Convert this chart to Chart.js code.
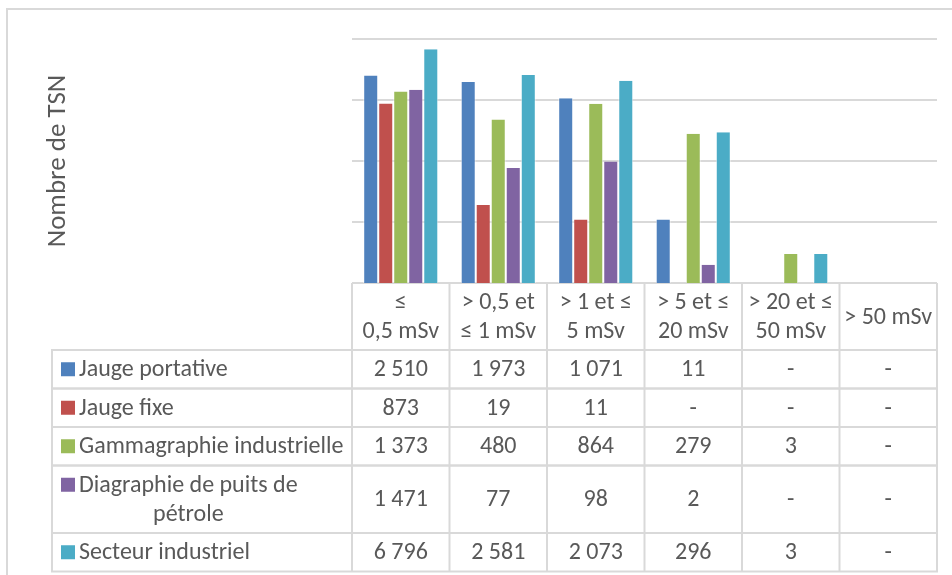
<!DOCTYPE html>
<html lang="fr">
<head>
  <meta charset="UTF-8" />
  <title>Nombre de TSN par tranche de dose</title>
  <script src="https://cdn.jsdelivr.net/npm/chart.js"></script>
  <style>
    * {
      margin: 0;
      padding: 0;
      box-sizing: border-box;
    }
    body {
      background: #fff;
      width: 952px;
      height: 575px;
      overflow: hidden;
    }
    canvas {
      display: block;
    }
  </style>
</head>
<body>
  <canvas id="grafico" width="952" height="575"></canvas>

  <script>
    // tranches de dose (en-tête du tableau)
    const tranches = [
      ['≤', '0,5 mSv'],
      ['> 0,5 et', '≤ 1 mSv'],
      ['> 1 et ≤', '5 mSv'],
      ['> 5 et ≤', '20 mSv'],
      ['> 20 et ≤', '50 mSv'],
      ['> 50 mSv']
    ];

    // null = "-" dans le tableau
    const jaugePortative = [2510, 1973, 1071, 11, null, null];
    const jaugeFixe = [873, 19, 11, null, null, null];
    const gammagraphie = [1373, 480, 864, 279, 3, null];
    const diagraphie = [1471, 77, 98, 2, null, null];
    const secteurIndustriel = [6796, 2581, 2073, 296, 3, null];

    const nomsSeries = [
      ['Jauge portative'],
      ['Jauge fixe'],
      ['Gammagraphie industrielle'],
      ['Diagraphie de puits de', 'pétrole'],
      ['Secteur industriel']
    ];
    const couleurs = ['#4F81BD', '#C0504D', '#9BBB59', '#8064A2', '#4BACC6'];

    const ticksLog = [1, 10, 100, 1000, 10000];

    const police = "Carlito, Lato, 'DejaVu Sans', sans-serif";
    const gris = '#595959';
    const trait = '#d9d9d9';

    function formater(v) {
      if (v === null) return '-';
      return String(v).replace(/\B(?=(\d{3})+(?!\d))/g, ' ');
    }

    const series = [jaugePortative, jaugeFixe, gammagraphie, diagraphie, secteurIndustriel];

    // tableau de données dessiné sous le graphique, aligné sur l'axe x
    const tableau = {
      id: 'tableau',
      afterDraw(chart) {
        const ctx = chart.ctx;
        const x = chart.scales.x;
        const larg = (x.right - x.left) / tranches.length;
        const gauche = 52;
        const hLigne = 29;
        const base = chart.chartArea.bottom;

        ctx.save();
        // cadre du graphique
        ctx.strokeStyle = trait;
        ctx.lineWidth = 2;
        ctx.beginPath();
        ctx.moveTo(7, 575);
        ctx.lineTo(7, 9);
        ctx.lineTo(952, 9);
        ctx.stroke();

        ctx.font = '24px ' + police;
        ctx.fillStyle = gris;
        ctx.textAlign = 'center';
        ctx.textBaseline = 'middle';

        // en-tête
        const hEntete = 2 * hLigne + 9;
        let y = base;
        tranches.forEach((lignes, i) => {
          const cx = x.getPixelForValue(i);
          lignes.forEach((t, k) => {
            ctx.fillText(t, cx, y + hEntete / 2 + (k - (lignes.length - 1) / 2) * hLigne + 1);
          });
        });
        ctx.beginPath();
        for (let i = 0; i <= tranches.length; i++) {
          ctx.moveTo(x.left + i * larg, y);
          ctx.lineTo(x.left + i * larg, y + hEntete);
        }
        ctx.stroke();
        y += hEntete;

        // lignes des séries
        series.forEach((valeurs, s) => {
          const lignes = nomsSeries[s];
          const h = lignes.length * hLigne + 9.5;
          const cy = y + h / 2;

          ctx.strokeRect(gauche, y, x.right - gauche, h);
          ctx.beginPath();
          for (let i = 0; i <= tranches.length; i++) {
            ctx.moveTo(x.left + i * larg, y);
            ctx.lineTo(x.left + i * larg, y + h);
          }
          ctx.stroke();

          // carré de couleur + nom
          const y0 = cy - (lignes.length - 1) / 2 * hLigne;
          ctx.fillStyle = couleurs[s];
          ctx.fillRect(61, y0 - 7, 14, 14);
          ctx.fillStyle = gris;
          const largMax = Math.max(...lignes.map(t => ctx.measureText(t).width));
          lignes.forEach((t, k) => {
            ctx.fillText(t, 79 + largMax / 2, y0 + k * hLigne + 1);
          });

          valeurs.forEach((v, i) => {
            ctx.fillText(formater(v), x.getPixelForValue(i), cy + 1);
          });
          y += h;
        });
        ctx.restore();
      }
    };

    const ctx = document.getElementById('grafico').getContext('2d');
    const grafico = new Chart(ctx, {
      type: 'bar',
      data: {
        labels: tranches,
        datasets: series.map((valeurs, s) => ({
          label: nomsSeries[s].join(' '),
          data: valeurs,
          backgroundColor: couleurs[s],
          borderColor: 'rgba(255,255,255,0.6)',
          borderWidth: { left: 1, right: 1, top: 0, bottom: 0 },
          barPercentage: 1,
          categoryPercentage: 0.77
        }))
      },
      options: {
        responsive: false,
        animation: false,
        layout: {
          padding: { top: 39, right: 15, bottom: 292, left: 0 }
        },
        scales: {
          x: {
            display: false
          },
          y: {
            type: 'logarithmic',
            min: 1,
            max: 10000,
            afterBuildTicks(scale) {
              scale.ticks = ticksLog.map(v => ({ value: v }));
            },
            afterFit(scale) {
              scale.width = 352;
            },
            ticks: { display: false },
            border: { display: false },
            grid: {
              color: trait,
              lineWidth: 2,
              drawTicks: false
            },
            title: {
              display: true,
              text: 'Nombre de TSN',
              color: gris,
              font: { family: police, size: 27 },
              padding: { top: 42, bottom: 0 }
            }
          }
        },
        plugins: {
          legend: { display: false },
          tooltip: { enabled: false }
        }
      },
      plugins: [tableau]
    });
  </script>
</body>
</html>
